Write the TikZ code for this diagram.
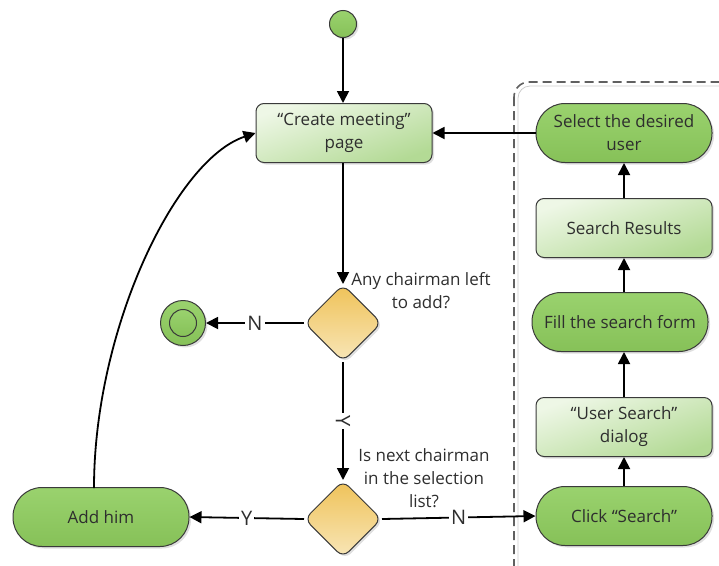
\documentclass[tikz,border=0pt]{standalone}
\usepackage{fontspec}
\setmainfont{Open Sans}
\usetikzlibrary{arrows.meta,shapes.geometric,shadows}
\definecolor{lgTop}{HTML}{EEF7E6}
\definecolor{lgBot}{HTML}{B3DA95}
\definecolor{dgTop}{HTML}{9AD26E}
\definecolor{dgBot}{HTML}{86C158}
\definecolor{dmTop}{HTML}{EFC258}
\definecolor{dmBot}{HTML}{F8E6B8}
\definecolor{txt}{HTML}{2E2E2E}
\definecolor{edge}{HTML}{3A3A3A}
\tikzset{
  x=1pt, y=-1pt,
  every node/.style={text=txt, font=\fontsize{17}{23}\selectfont},
  shad/.style={drop shadow={opacity=0.25, shadow xshift=2pt, shadow yshift=-2pt}},
  lightbox/.style={shad, draw=edge, line width=1pt, rounded corners=8pt,
    top color=lgTop, bottom color=lgBot, shading angle=20,
    minimum width=176pt, minimum height=59pt, align=center, inner sep=2pt},
  darkbox/.style={shad, draw=edge, line width=1pt, rounded corners=29pt,
    top color=dgTop, bottom color=dgBot,
    minimum width=176pt, minimum height=59pt, align=center, inner sep=2pt},
  decision/.style={shad, draw=edge, line width=1pt, diamond, rounded corners=8pt,
    top color=dmTop, bottom color=dmBot, minimum width=77pt, minimum height=77pt, inner sep=0pt},
  arr/.style={draw=black, line width=1.8pt, -{Triangle[length=12pt,width=12pt]}},
  lbl/.style={fill=white, inner sep=2pt, font=\fontsize{20}{20}\selectfont},
}
\begin{document}
\begin{tikzpicture}
\useasboundingbox (0,0) rectangle (719,565);
% dashed container
\draw[gray!40, line width=0.8pt, rounded corners=12pt] (518,86) rectangle (760,600);
\draw[gray!75!black, dashed, dash pattern=on 9pt off 5pt, line width=1.6pt, rounded corners=15pt] (514,82) rectangle (760,600);

% nodes
\node[shad, circle, draw=edge, line width=1pt, top color=dgTop, bottom color=dgBot, minimum size=27pt, inner sep=0pt] (start) at (343,24) {};
\node[lightbox] (create) at (344,133) {“Create meeting”\\page};
\node[decision] (d1) at (343,323) {};
\node[shad, circle, draw=edge, line width=1pt, top color=dgTop, bottom color=dgBot, minimum size=45pt, inner sep=0pt] (end) at (183,323) {};
\node[circle, draw=edge, line width=1pt, top color=dgTop, bottom color=dgBot, minimum size=27pt, inner sep=0pt] (endin) at (183,323) {};
\node[decision] (d2) at (343,519) {};
\node[darkbox] (add) at (101,517) {Add him};
\node[darkbox] (select) at (624,133) {Select the desired\\user};
\node[lightbox] (results) at (624,228) {Search Results};
\node[darkbox] (fill) at (620,322) {Fill the search form};
\node[lightbox] (usd) at (624,427) {“User Search”\\dialog};
\node[darkbox] (click) at (624,516) {Click “Search”};

% condition texts
\node[align=center] (q1) at (421,291) {Any chairman left\\to add?};
\node[align=center] (q2) at (424,478) {Is next chairman\\in the selection\\list?};

% connectors
\draw[arr] (start) -- (start |- create.north);
\draw[arr] (create.south -| d1) -- (d1.north);
\draw[arr] (d1.west) -- node[lbl]{N} (end.east);
\draw[arr] (d1.south) -- node[lbl, rotate=-90]{Y} (d2.north);
\draw[arr] (d2.west) -- node[lbl]{Y} (add.east);
\draw[arr] (d2.east) -- node[lbl]{N} (click.west);
\draw[arr] (click.north -| usd) -- (usd);
\draw[arr] (usd.north) -- (usd.north |- fill.south);
\draw[arr] (fill.north -| results) -- (results);
\draw[arr] (results) -- (select);
\draw[arr] (select) -- (create);
\coordinate (addtop) at (94,488);
\draw[arr] (addtop) .. controls (94,330) and (175,160) .. (create.west);
\end{tikzpicture}
\end{document}
